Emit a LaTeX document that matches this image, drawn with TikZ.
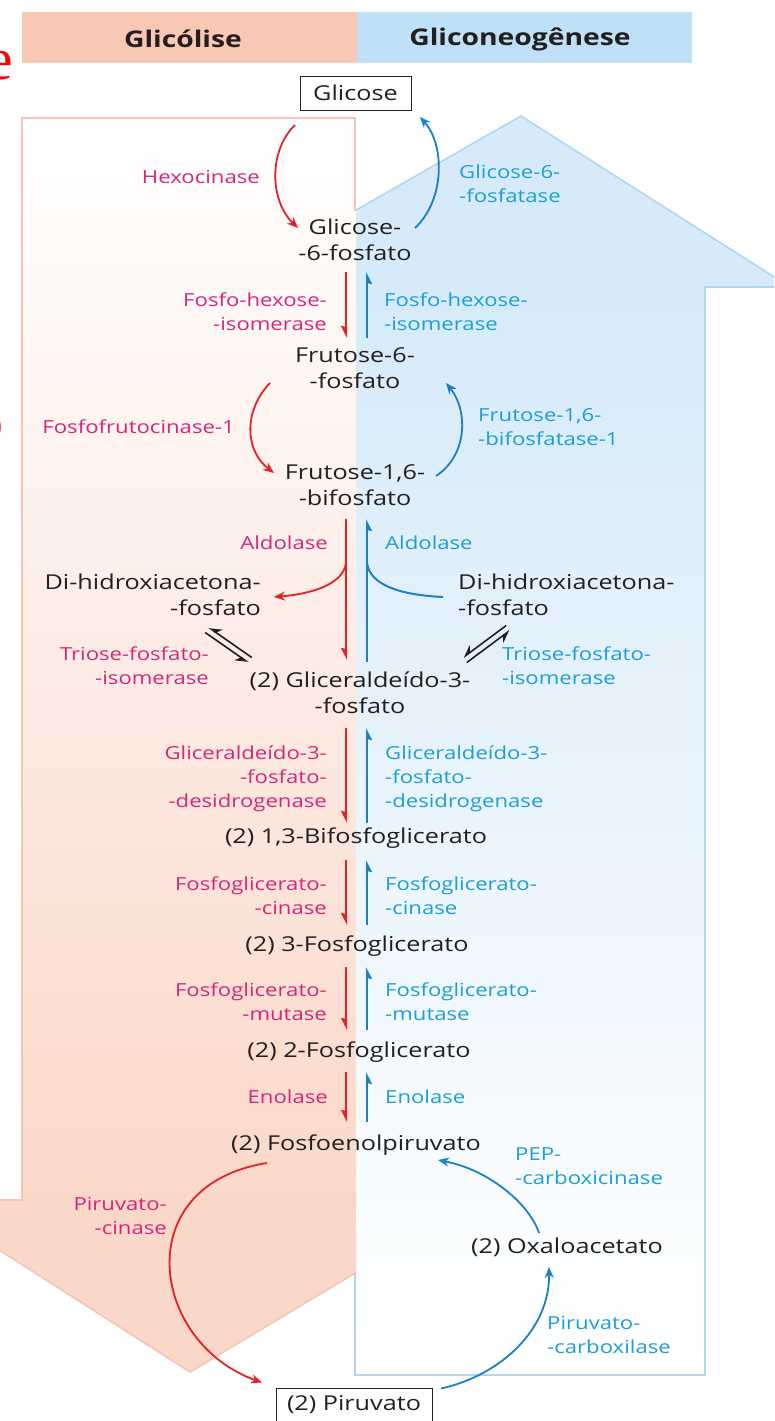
\documentclass[tikz,border=0pt]{standalone}
\usepackage{fontspec}
\setmainfont{Open Sans}[FakeStretch=1.23]
\newfontfamily\strayfont{Liberation Serif}
\usetikzlibrary{arrows.meta,calc}
\definecolor{txtblack}{RGB}{35,31,32}
\definecolor{enzpink}{RGB}{214,38,122}
\definecolor{enzblue}{RGB}{28,158,215}
\definecolor{arrred}{RGB}{226,34,40}
\definecolor{arrblue}{RGB}{27,128,196}
\definecolor{hdrpink}{RGB}{248,200,180}
\definecolor{hdrblue}{RGB}{190,225,247}
\definecolor{pinkline}{RGB}{245,196,180}
\definecolor{pinkhead}{RGB}{250,216,201}
\definecolor{pinkmid}{RGB}{254,245,241}
\definecolor{bluehead}{RGB}{214,234,249}
\definecolor{bluemid}{RGB}{238,246,252}
\definecolor{blueline}{RGB}{178,214,240}
\begin{document}
\begin{tikzpicture}[x=1pt,y=-1pt,
  met/.style={text=txtblack,font=\fontsize{20.5}{26}\selectfont,align=center,inner sep=0pt},
  enzl/.style={text=enzpink,font=\fontsize{18}{24}\selectfont,align=right,anchor=east,inner sep=0pt},
  enzr/.style={text=enzblue,font=\fontsize{18}{24}\selectfont,align=left,anchor=west,inner sep=0pt},
  metbox/.style={met,draw=txtblack,line width=1pt},
  hdr/.style={font=\fontsize{23}{28}\selectfont\bfseries,text=txtblack,inner sep=0pt},
  rdown/.style={draw=arrred,line width=2pt,-{Stealth[right,length=10pt,width=10pt,inset=1pt]}},
  bup/.style={draw=arrblue,line width=2pt,-{Stealth[right,length=10pt,width=10pt,inset=1pt]}},
  rcurve/.style={draw=arrred,line width=1.8pt,-{Stealth[length=11pt,width=9pt]}},
  bcurve/.style={draw=arrblue,line width=1.8pt,-{Stealth[length=11pt,width=9pt]}},
  bline/.style={draw=arrblue,line width=2pt},
  eqharp/.style={draw=txtblack,line width=1.6pt,-{Stealth[right,length=11pt,width=12pt]}},
  stray/.style={text=red,font=\strayfont\fontsize{60}{60}\selectfont,inner sep=0pt}
]
\path[use as bounding box] (0,0) rectangle (774,1421);
\begin{scope}
\clip (0,0) rectangle (774,1421);
% ---- gluconeogenesis (blue, upward) arrow
\fill[bluehead] (521,116) -- (790,287) -- (221,287) -- cycle;
\shade[top color=bluehead, middle color=bluemid, bottom color=white] (355,286) rectangle (705,1375);
\draw[blueline, line width=1.6pt] (521,116) -- (790,287) -- (705,287) -- (705,1375) -- (355,1375) -- (355,287) -- (221,287) -- cycle;
% ---- glycolysis (pink, downward) arrow
\begin{scope}
\clip (-200,0) rectangle (356,1421);
\shade[top color=white, middle color=pinkmid, bottom color=pinkhead] (22,118) rectangle (356,1201);
\fill[pinkhead] (-79,1200) -- (190,1372) -- (477,1200) -- cycle;
\draw[pinkline, line width=1.6pt] (355,211) -- (355,118) -- (22,118) -- (22,1200) -- (-79,1200) -- (190,1372) -- (477,1200);
\end{scope}
% ---- header
\fill[hdrpink] (22,12) rectangle (357,63);
\fill[hdrblue] (357,12) rectangle (692,63);
\node[hdr] (hglic) at (183,39) {Glicólise};
\node[hdr] (hgneo) at (520,39) {Gliconeogênese};
% ---- stray glyphs at left edge
\node[stray, anchor=base] (straye) at (0,80) {e};
\node[stray, anchor=base east] (strayo) at (4,441) {o};
% ---- metabolites
\node[metbox, minimum width=111pt, minimum height=34pt] (glc) at (355.5,93) {Glicose};
\node[met] (g6p) at (355,240) {Glicose-\\-6-fosfato};
\node[met] (f6p) at (355,368) {Frutose-6-\\-fosfato};
\node[met] (fbp) at (355,485) {Frutose-1,6-\\-bifosfato};
\node[met, align=right, anchor=east] (dhapL) at (261,595) {Di-hidroxiacetona-\\-fosfato};
\node[met, align=left, anchor=west] (dhapR) at (458,595) {Di-hidroxiacetona-\\-fosfato};
\node[met] (gap) at (360,693) {(2) Gliceraldeído-3-\\-fosfato};
\node[met] (bpg) at (356,838) {(2) 1,3-Bifosfoglicerato};
\node[met] (pg3) at (357,946) {(2) 3-Fosfoglicerato};
\node[met] (pg2) at (359,1052) {(2) 2-Fosfoglicerato};
\node[met] (pep) at (356,1145) {(2) Fosfoenolpiruvato};
\node[met] (oaa) at (567,1247) {(2) Oxaloacetato};
\node[metbox, minimum width=156pt, minimum height=33pt] (pyr) at (354,1404.5) {(2) Piruvato};
% ---- enzymes
\node[enzl] (hexo) at (260,177) {Hexocinase};
\node[enzr] (g6pase) at (459,184) {Glicose-6-\\-fosfatase};
\node[enzl] (phiL) at (327,312) {Fosfo-hexose-\\-isomerase};
\node[enzr] (phiR) at (384,312) {Fosfo-hexose-\\-isomerase};
\node[enzl] (pfk) at (235,427) {Fosfofrutocinase-1};
\node[enzr] (fbpase) at (478,427) {Frutose-1,6-\\-bifosfatase-1};
\node[enzl] (aldL) at (328,543) {Aldolase};
\node[enzr] (aldR) at (385,543) {Aldolase};
\node[enzl] (tpiL) at (209,666) {Triose-fosfato-\\-isomerase};
\node[enzr] (tpiR) at (502,666) {Triose-fosfato-\\-isomerase};
\node[enzl] (gapdhL) at (327,779) {Gliceraldeído-3-\\-fosfato-\\-desidrogenase};
\node[enzr] (gapdhR) at (385,779) {Gliceraldeído-3-\\-fosfato-\\-desidrogenase};
\node[enzl] (pgkL) at (327,896) {Fosfoglicerato-\\-cinase};
\node[enzr] (pgkR) at (385,896) {Fosfoglicerato-\\-cinase};
\node[enzl] (pgmL) at (327,1002) {Fosfoglicerato-\\-mutase};
\node[enzr] (pgmR) at (385,1002) {Fosfoglicerato-\\-mutase};
\node[enzl] (enoL) at (328,1097) {Enolase};
\node[enzr] (enoR) at (385,1097) {Enolase};
\node[enzl] (pkL) at (167,1216) {Piruvato-\\-cinase};
\node[enzr] (pepck) at (515,1166) {PEP-\\-carboxicinase};
\node[enzr] (pc) at (547,1335) {Piruvato-\\-carboxilase};
% ---- curved arrows
\draw[rcurve] ($(glc)+(-60.5,32)$) .. controls +(-26,25) and +(-29,-28) .. ($(g6p)+(-57,-12)$);
\draw[bcurve] ($(g6p)+(60,-12)$) .. controls +(30,-28) and +(25,28) .. ($(glc)+(64.5,24)$);
\draw[rcurve] ($(f6p)+(-85,15)$) .. controls +(-26,27) and +(-30,-23) .. ($(fbp)+(-81,-12)$);
\draw[bcurve] ($(fbp)+(81,-9)$) .. controls +(32,-21) and +(22,27) .. ($(f6p)+(91,15)$);
\draw[rcurve] ($(pep)+(-89,18)$) .. controls +(-139,22) and +(-112,-40) .. ($(pyr)+(-92,-22)$);
\draw[bcurve] ($(pyr)+(87,-16)$) .. controls +(59,-13) and +(1,63) .. ($(oaa)+(-18,20)$);
\draw[bcurve] ($(oaa)+(-28,-14)$) .. controls +(-9,-28) and +(52,10) .. ($(pep)+(82,15)$);
% ---- straight arrows (glycolysis, down)
\draw[rdown] ($(g6p)+(-9,32)$) -- ($(f6p)+(-9,-30)$);
\draw[rdown] ($(fbp)+(-9,34)$) -- ($(gap)+(-14,-33)$);
\draw[rdown] ($(gap)+(-14,35)$) -- ($(bpg)+(-10,-15)$);
\draw[rdown] ($(bpg)+(-10,22)$) -- ($(pg3)+(-11,-21)$);
\draw[rdown] ($(pg3)+(-11,21)$) -- ($(pg2)+(-13,-22)$);
\draw[rdown] ($(pg2)+(-13,20)$) -- ($(pep)+(-10,-23)$);
% ---- straight arrows (gluconeogenesis, up)
\draw[bup] ($(f6p)+(12,-30)$) -- ($(g6p)+(12,32)$);
\draw[bup] ($(gap)+(7,-31)$) -- ($(fbp)+(12,34)$);
\draw[bup] ($(bpg)+(11,-15)$) -- ($(gap)+(7,35)$);
\draw[bup] ($(pg3)+(10,-21)$) -- ($(bpg)+(11,22)$);
\draw[bup] ($(pg2)+(8,-22)$) -- ($(pg3)+(10,21)$);
\draw[bup] ($(pep)+(11,-23)$) -- ($(pg2)+(8,20)$);
% ---- aldolase branches
\draw[rcurve] ($(fbp)+(-9,78)$) .. controls +(-3,22) and +(36,-3) .. ($(dhapL.east)+(13,2)$);
\draw[bline] ($(dhapR.west)+(-15,2)$) .. controls +(-43,-2) and +(3,22) .. ($(fbp)+(12,78)$);
% ---- triose-phosphate isomerase equilibria
\draw[eqharp] ($(gap)+(-108.2,-35.5)$) -- ($(dhapL.east)+(-52.2,32.5)$);
\draw[eqharp] ($(dhapL.east)+(-55.8,37.5)$) -- ($(gap)+(-111.8,-30.5)$);
\draw[eqharp] ($(dhapR.west)+(48.2,30.5)$) -- ($(gap)+(103.2,-35.5)$);
\draw[eqharp] ($(gap)+(106.8,-30.5)$) -- ($(dhapR.west)+(51.8,35.5)$);
\end{scope}
\end{tikzpicture}
\end{document}
